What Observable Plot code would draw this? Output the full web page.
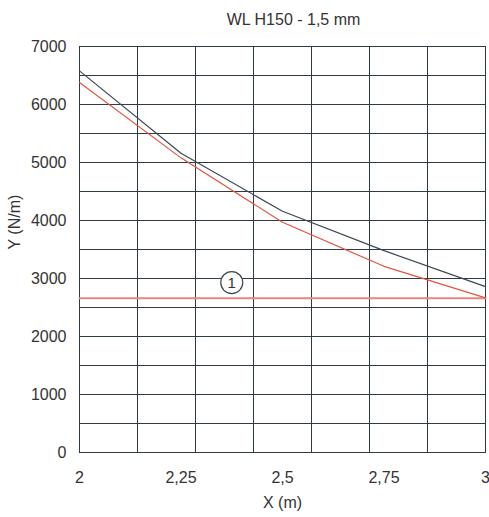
<!DOCTYPE html>
<html>
<head>
<meta charset="utf-8">
<script src="https://cdn.jsdelivr.net/npm/d3@7"></script>
<script src="https://cdn.jsdelivr.net/npm/@observablehq/plot@0.6"></script>
<style>
  html, body { margin: 0; padding: 0; background: #fff; }
  svg { display: block; }
</style>
</head>
<body>
<div id="chart"></div>
<script>
const title = "WL H150 - 1,5 mm";
const xLabel = "X (m)";
const yLabel = "Y (N/m)";

const xValues = [2, 2.25, 2.5, 2.75, 3];
const seriesDark = [6580, 5160, 4160, 3480, 2860];
const seriesRed = [6380, 5080, 3970, 3210, 2665];
const limitValue = 2660;
const limitX = [2, 3];

const xTicks = [2, 2.25, 2.5, 2.75, 3];
const yTicks = [0, 1000, 2000, 3000, 4000, 5000, 6000, 7000];
const xGrid = [0, 1, 2, 3, 4, 5, 6, 7].map(k => 2 + k / 7);
const yGrid = d3.range(0, 7001, 500);

const marker = [{x: 2.375, y: 2930, label: "1"}];

const dark = xValues.map((x, i) => ({x, y: seriesDark[i]}));
const red = xValues.map((x, i) => ({x, y: seriesRed[i]}));
const limit = limitX.map(x => ({x, y: limitValue}));

const fmt = d => String(d).replace(".", ",");
const gridColor = "#2e3b43";

const chart = Plot.plot({
  width: 489,
  height: 517,
  marginLeft: 79,
  marginRight: 4,
  marginTop: 46,
  marginBottom: 65,
  style: {fontFamily: "'Liberation Sans', Arial, sans-serif", fontSize: "16px", color: "#333"},
  x: {domain: [2, 3]},
  y: {domain: [0, 7000]},
  marks: [
    Plot.ruleX(xGrid, {stroke: gridColor, strokeWidth: 1}),
    Plot.ruleY(yGrid, {stroke: gridColor, strokeWidth: 1}),
    Plot.frame({stroke: gridColor, strokeWidth: 1}),
    Plot.axisX({ticks: xTicks, tickFormat: fmt, tickSize: 0, tickPadding: 19, label: null, fontSize: 16}),
    Plot.axisY({ticks: yTicks, tickFormat: d => String(d), tickSize: 0, tickPadding: 13, label: null, fontSize: 16}),
    Plot.line(limit, {x: "x", y: "y", stroke: "#e8857d", strokeWidth: 2}),
    Plot.line(dark, {x: "x", y: "y", stroke: "#3b4850", strokeWidth: 1.2}),
    Plot.line(red, {x: "x", y: "y", stroke: "#e5533f", strokeWidth: 1.2}),
    Plot.dot(marker, {x: "x", y: "y", r: 11, stroke: "#3b4850", strokeWidth: 1.2, fill: "white"}),
    Plot.text(marker, {x: "x", y: "y", text: "label", fontSize: 15, fill: "#333", dy: 1}),
    Plot.text([title], {frameAnchor: "top", lineAnchor: "middle", dx: 11, dy: -27, fontSize: 16, fill: "#333"}),
    Plot.text([xLabel], {frameAnchor: "bottom", lineAnchor: "middle", dy: 50, fontSize: 16, fill: "#333"}),
    Plot.text([yLabel], {frameAnchor: "left", lineAnchor: "middle", dx: -65, rotate: -90, fontSize: 16, fill: "#333"})
  ]
});
document.getElementById("chart").appendChild(chart);
</script>
</body>
</html>
